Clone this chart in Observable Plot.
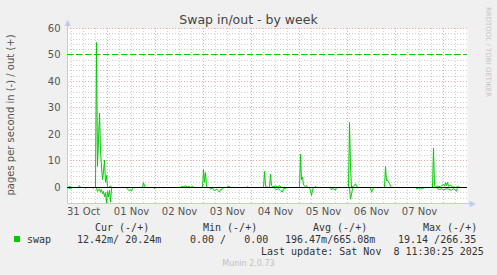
<!DOCTYPE html>
<html><head><meta charset="utf-8">
<script src="https://cdn.jsdelivr.net/npm/d3@7"></script>
<script src="https://cdn.jsdelivr.net/npm/@observablehq/plot@0.6"></script>
<style>
html,body{margin:0;padding:0;background:#f0f0f0;}
#wrap{position:relative;width:497px;height:275px;background:#f0f0f0;overflow:hidden;font-family:"DejaVu Sans",sans-serif;}
#wrap svg{position:absolute;left:0;top:0;background:transparent;}
.t{position:absolute;white-space:pre;line-height:12px;}
.mono{font-family:"DejaVu Sans Mono",monospace;font-size:10px;color:#333;}
</style></head><body><div id="wrap"></div>
<script>
// ---- data (hours measured from 31 Oct 2025 00:00) ----
const title = "Swap in/out - by week";
const yLabel = "pages per second in (-) / out (+)";
const dayLabels = ["31 Oct","01 Nov","02 Nov","03 Nov","04 Nov","05 Nov","06 Nov","07 Nov"];
const yTicks = [0,10,20,30,40,50,60];
const warnLevel = 50;
const outHours = [4,5.5,6,9.5,10,10.5,18,18.5,19,19.5,20,20.5,21,21.5,22,22.5,23,23.5,24,24.5,25.5,26,
  41.5,42,42.5,43,60.5,61,62,63,64,65,65.5,66.5,67,71.5,72,72.5,73,73.5,74,83.5,84,85,85.5,93.5,94,94.5,
  102,102.5,103,103.5,104.5,105,105.5,106,106.5,108,109,110,111,120,120.5,121,121.5,122,123,123.5,124,
  127.5,128,128.5,144.5,145,145.5,146,147,148,148.5,149,162.5,163,163.5,164,164.5,165,165.5,166,
  186.5,187,187.5,188,189,190.5,192,192.5,193,193.5,194,194.5,195.5,196.5,198,199,200.5,203.5];
const outValues = [0,0.4,0,0,0.7,0,0,54.7,8,18,28,14,8,3,6,10.3,2,4.5,0.3,0,0.6,0,
  0,1.8,0.6,0,0,0.5,0.3,0.6,0.2,0.5,0,0.5,0,0,6.8,2,5.6,0.5,0,0,0.4,0.4,0,0,0.4,0,
  0,6.0,0.5,0.3,0,0,5.0,0.8,0.3,0.5,0.3,0.7,0,0,12.5,3,3.9,1,0.3,0.7,0,
  0,0.5,0,0,24.6,8,0,0.5,1.4,0.6,0,0,7.9,2.5,2.9,2,1.5,0.5,0,
  0,14.9,1,0,0.5,0.3,1.2,0.5,1.8,0.8,2.0,0.5,0.8,0.3,0,0.3,0,0];
const inHours = [4,5.5,6.5,12.5,13,13.5,16.5,17,17.5,18,18.5,19,19.5,20,20.5,21,21.5,22,22.5,23,23.5,24,24.5,25,25.5,26,26.5,
  33.5,34,34.5,35,35.5,36,36.5,37,47,47.5,48,75,75.5,76.5,77.5,78.5,79,80,80.5,81.5,82,
  107,107.5,108.5,109.5,110.5,111.5,112,113,114,125,125.5,126,126.5,127,
  135.5,136,136.5,138,138.5,145,145.5,146,146.5,147,155.5,156,156.5,157,
  178,178.5,179.5,180.5,181.5,182.5,188.5,189,190,191,192,193.5,194.5,196,197,198.5,199,203.5];
const inValues = [0,0.5,0,0,0.3,0,0,0.3,0,0,0.3,1.5,1.0,0.5,1.8,0.8,2.4,1.5,3.5,2,5.8,1.5,3.5,1,5.5,0.5,0,
  0,0.5,1.0,1.3,0.8,1.4,0.4,0,0,0.5,0,0,0.6,0.3,1.3,0.5,1.0,1.7,0.8,0.6,0,
  0,0.4,0.8,0.5,1.2,1.7,0.5,0.3,0,0,1.2,3.0,1.0,0,
  0,0.9,0.3,1.0,0,0,4.4,2.5,0.5,0,0,1.8,1.0,0,
  0,0.5,0.3,0.6,0.4,0,0,0.5,0.8,0.4,0.9,0.5,0.6,1.1,0.3,1.4,0,0];
const legendHeads = ["Cur (-/+)","Min (-/+)","Avg (-/+)","Max (-/+)"];
const legendVals = ["12.42m/ 20.24m","0.00 /   0.00","196.47m/665.08m","19.14 /266.35"];
const seriesName = "swap";
const lastUpdate = "Last update: Sat Nov  8 11:30:25 2025";
const footer = "Munin 2.0.73";
const watermark = "RRDTOOL / TOBI OETIKER";

// ---- build ----
const base = Date.UTC(2025, 9, 31);
const hr = h => new Date(base + h * 3600e3);
const outData = outHours.map((h, i) => ({t: hr(h), v: outValues[i]}));
const inData = inHours.map((h, i) => ({t: hr(h), v: -inValues[i]}));
const noonTicks = dayLabels.map((_, i) => hr(12 + 24 * i));
const labelMap = new Map(noonTicks.map((t, i) => [+t, dayLabels[i]]));
const midnights = d3.range(1, 9).map(d => hr(24 * d));
const sixHours = d3.range(6, 204, 6).filter(h => h % 24 !== 0).map(hr);
const yMinor = d3.range(-6, 61, 2).filter(v => v % 10 !== 0);
const yMajor = yTicks.filter(v => v !== 0);
const x0 = hr(4), x1 = hr(204);
const yBottom = -6.04;
const gridGray = "#cdcdcd", gridRed = "#eba3a3", axisBlue = "#c4c8f4", green = "#00cc00";
const crisp = {shapeRendering: "crispEdges"};

const chart = Plot.plot({
  width: 497, height: 275,
  marginTop: 28, marginBottom: 72, marginLeft: 67, marginRight: 30,
  style: {background: "transparent", fontFamily: "DejaVu Sans, sans-serif", fontSize: "10px", color: "#555", overflow: "visible"},
  x: {type: "utc", domain: [x0, x1]},
  y: {domain: [yBottom, 60]},
  marks: [
    Plot.frame({fill: "white", stroke: "none"}),
    Plot.ruleY(yMinor, {stroke: gridGray, strokeDasharray: "1,2", ...crisp}),
    Plot.ruleX(sixHours, {stroke: gridGray, strokeDasharray: "1,2", ...crisp}),
    Plot.ruleY(yMajor, {stroke: gridRed, strokeDasharray: "1,2", ...crisp}),
    Plot.ruleX(midnights, {stroke: gridRed, strokeDasharray: "1,2", ...crisp}),
    Plot.axisY({ticks: yTicks, tickSize: 0, tickPadding: 7, label: null, fill: "#555"}),
    Plot.axisX({ticks: noonTicks, tickFormat: d => labelMap.get(+d), tickSize: 0, tickPadding: 4, label: null, fill: "#555"}),
    Plot.ruleX([x0], {y1: yBottom, y2: 62, stroke: axisBlue, ...crisp}),
    Plot.ruleY([yBottom], {x1: x0, x2: hr(206), stroke: axisBlue, ...crisp}),
    Plot.text(["▲"], {x: x0, y: 62.3, fill: axisBlue, fontSize: 8, dy: 0}),
    Plot.text(["▶"], {x: hr(206), y: yBottom, fill: axisBlue, fontSize: 8, dx: 1}),
    Plot.line(inData, {x: "t", y: "v", stroke: green, strokeWidth: 1}),
    Plot.line(outData, {x: "t", y: "v", stroke: green, strokeWidth: 1}),
    Plot.ruleY([0], {stroke: "black", strokeWidth: 1, ...crisp}),
    Plot.ruleY([warnLevel], {stroke: green, strokeDasharray: "6,3", strokeWidth: 1, ...crisp})
  ]
});
const wrap = document.getElementById("wrap");
wrap.appendChild(chart);

function addText(txt, css, cls) {
  const d = document.createElement("div");
  d.className = "t " + (cls || "");
  d.textContent = txt;
  Object.assign(d.style, css);
  wrap.appendChild(d);
  return d;
}
addText(title, {left: "0px", width: "497px", textAlign: "center", top: "13px", fontSize: "12.5px", color: "#444", lineHeight: "14px"});
addText(yLabel, {left: "11px", top: "115px", fontSize: "10px", color: "#555", transform: "translate(-50%,-50%) rotate(-90deg)"});
addText(watermark, {left: "488px", top: "52px", fontSize: "7px", color: "#c4c4c4", transform: "translate(-50%,-50%) rotate(90deg)"});
const headX = [95, 203, 313, 423];
legendHeads.forEach((h, i) => addText(h, {left: headX[i] + "px", top: "222px"}, "mono"));
const valX = [77, 190, 285, 398];
legendVals.forEach((v, i) => addText(v, {left: valX[i] + "px", top: "234px"}, "mono"));
addText(seriesName, {left: "27px", top: "234px"}, "mono");
const sw = document.createElement("div");
Object.assign(sw.style, {position: "absolute", left: "14px", top: "236px", width: "6px", height: "6px", background: green});
wrap.appendChild(sw);
addText(lastUpdate, {left: "261px", top: "246px"}, "mono");
addText(footer, {left: "0px", width: "497px", textAlign: "center", top: "259px", fontSize: "8px", color: "#c0c0c0", lineHeight: "10px"});
</script></body></html>
